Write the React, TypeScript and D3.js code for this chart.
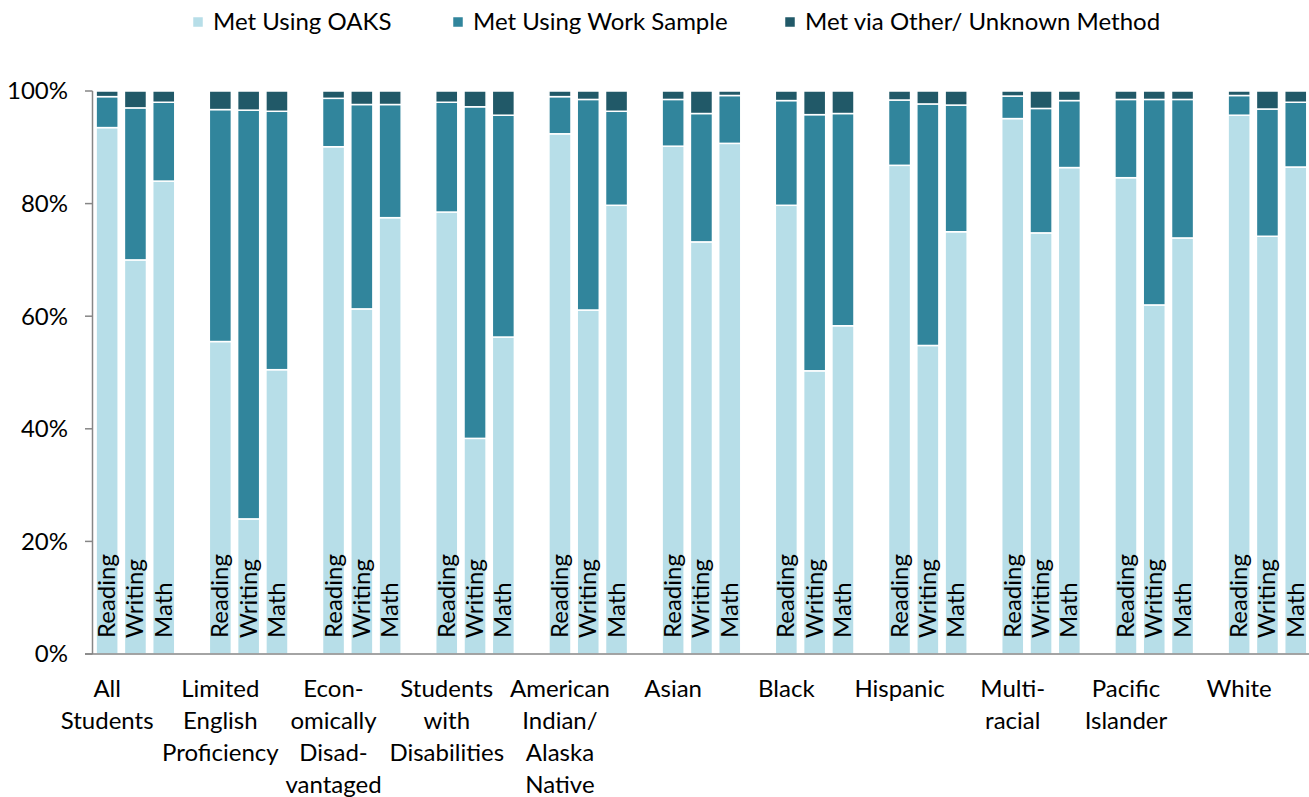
import React from "react";
import * as d3 from "d3";

const groupLabels: string[][] = [
  ["All", "Students"],
  ["Limited", "English", "Proficiency"],
  ["Econ-", "omically", "Disad-", "vantaged"],
  ["Students", "with", "Disabilities"],
  ["American", "Indian/", "Alaska", "Native"],
  ["Asian"],
  ["Black"],
  ["Hispanic"],
  ["Multi-", "racial"],
  ["Pacific", "Islander"],
  ["White"],
];
const subjects = ["Reading", "Writing", "Math"];
const seriesNames = ["Met Using OAKS", "Met Using Work Sample", "Met via Other/ Unknown Method"];
const seriesColors = ["#b7dee8", "#31859c", "#215968"];

// per group: [Reading, Writing, Math]
const metOaks: number[][] = [
  [93.5, 70.0, 84.0],
  [55.5, 24.0, 50.5],
  [90.1, 61.3, 77.5],
  [78.5, 38.3, 56.3],
  [92.4, 61.1, 79.7],
  [90.2, 73.2, 90.7],
  [79.7, 50.3, 58.3],
  [86.8, 54.8, 75.0],
  [95.1, 74.8, 86.4],
  [84.6, 62.0, 73.9],
  [95.7, 74.2, 86.5],
];
const metWorkSample: number[][] = [
  [5.5, 27.0, 14.0],
  [41.2, 72.6, 45.9],
  [8.6, 36.3, 20.1],
  [19.5, 58.9, 39.4],
  [6.6, 37.4, 16.7],
  [8.3, 22.8, 8.5],
  [18.6, 45.5, 37.7],
  [11.6, 42.9, 22.5],
  [4.0, 22.1, 11.9],
  [13.9, 36.5, 24.6],
  [3.5, 22.6, 11.5],
];
const metOther: number[][] = [
  [1.0, 3.0, 2.0],
  [3.3, 3.4, 3.6],
  [1.3, 2.4, 2.4],
  [2.0, 2.8, 4.3],
  [1.0, 1.5, 3.6],
  [1.5, 4.0, 0.8],
  [1.7, 4.2, 4.0],
  [1.6, 2.3, 2.5],
  [0.9, 3.1, 1.7],
  [1.5, 1.5, 1.5],
  [0.8, 3.2, 2.0],
];
const yTicks = [0, 20, 40, 60, 80, 100];

const W = 1309;
const H = 797;
const font = "Lato, 'Open Sans', sans-serif";

export default function App() {
  const left = 93;
  const top = 91;
  const bottom = 654;
  const slots = groupLabels.length * 4 - 1;
  const x = d3
    .scaleBand<number>()
    .domain(d3.range(slots))
    .range([left, left + slots * 28.3])
    .paddingInner(0.22)
    .paddingOuter(0.11);
  const y = d3.scaleLinear().domain([0, 100]).range([bottom, top]);

  const rows = groupLabels.flatMap((_, g) =>
    subjects.map((s, si) => ({
      g,
      si,
      subject: s,
      slot: g * 4 + si,
      vals: [metOaks[g][si], metWorkSample[g][si], metOther[g][si]],
    }))
  );
  const stack = d3
    .stack<any>()
    .keys([0, 1, 2] as any)
    .value((d: any, k: any) => d.vals[k]);
  const stacked = stack(rows);

  const bw = x.bandwidth();
  const legendX = [193, 453, 785];

  return (
    <svg
      width={W}
      height={H}
      style={{ position: "absolute", left: 0, top: 0, display: "block", background: "#fff" }}
      fontFamily={font}
    >
      {/* legend */}
      {seriesNames.map((n, i) => (
        <g key={n}>
          <rect x={legendX[i]} y={17} width={10} height={10} fill={seriesColors[i]} stroke="#fff" strokeWidth={0.5} />
          <text x={legendX[i] + 20} y={30} fontSize={24} fill="#000">
            {n}
          </text>
        </g>
      ))}

      {/* bars */}
      {stacked.map((layer, li) =>
        layer.map((seg, i) => {
          const r = rows[i];
          const y0 = y(seg[0]);
          const y1 = y(Math.min(seg[1], 100));
          return (
            <rect
              key={`${li}-${i}`}
              x={x(r.slot)!}
              y={y1}
              width={bw}
              height={Math.max(0, y0 - y1)}
              fill={seriesColors[li]}
              stroke="#fff"
              strokeWidth={1.5}
            />
          );
        })
      )}

      {/* subject labels inside bars */}
      {rows.map((r) => {
        const cx = x(r.slot)! + bw / 2;
        return (
          <text
            key={`lab-${r.slot}`}
            transform={`translate(${cx + 8},${bottom - 16}) rotate(-90)`}
            fontSize={24}
            fill="#000"
          >
            {r.subject}
          </text>
        );
      })}

      {/* y axis */}
      <line x1={92.5} x2={92.5} y1={y(100)} y2={bottom} stroke="#868686" strokeWidth={1.5} />
      {yTicks.map((t) => (
        <g key={t}>
          <line x1={85} x2={92.5} y1={y(t)} y2={y(t)} stroke="#868686" strokeWidth={1.5} />
          <text x={68} y={y(t)} dy="0.35em" textAnchor="end" fontSize={24} fill="#000">
            {t}%
          </text>
        </g>
      ))}
      {/* x axis */}
      <line x1={85} x2={W} y1={bottom} y2={bottom} stroke="#868686" strokeWidth={1.5} />

      {/* category labels */}
      {groupLabels.map((lines, g) => {
        const cx = x(g * 4)! + bw / 2;
        return (
          <text key={`g-${g}`} textAnchor="middle" fontSize={24} fill="#000">
            {lines.map((ln, li) => (
              <tspan key={li} x={cx} y={697 + li * 32}>
                {ln}
              </tspan>
            ))}
          </text>
        );
      })}
    </svg>
  );
}
